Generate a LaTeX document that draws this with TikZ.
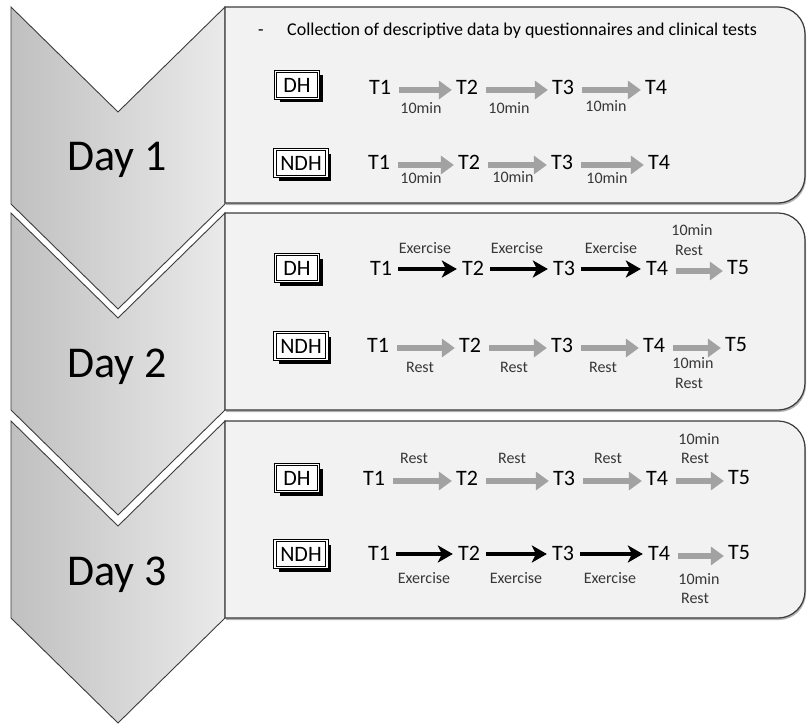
\documentclass[tikz,border=0pt]{standalone}
\usepackage{fontspec}
\setmainfont{Carlito}
\usetikzlibrary{arrows.meta,shadows}
\definecolor{chevL}{RGB}{192,192,192}
\definecolor{chevR}{RGB}{234,234,234}
\definecolor{boxfill}{RGB}{242,242,242}
\definecolor{edge}{RGB}{60,60,60}
\definecolor{arrowgray}{RGB}{162,162,162}
\definecolor{labgray}{RGB}{55,55,55}
\newcommand\chevpath[1]{(11,#1) -- (118,{#1+105}) -- (225,#1) -- (225,{#1+197}) -- (118,{#1+302}) -- (11,{#1+197}) -- cycle}
\newcommand\boxpath[2]{(225,#1) -- (778,#1) .. controls (792.9,#1) and (805,{#1+12.1}) .. (805,{#1+27}) -- (805,{#2-27}) .. controls (805,{#2-12.1}) and (792.9,#2) .. (778,#2) -- (225,#2) -- cycle}
\begin{document}
\begin{tikzpicture}[x=1pt,y=-1pt,
  chev/.style={draw=edge, line width=0.9pt, left color=chevL, right color=chevR, line join=miter},
  bigbox/.style={draw=edge, line width=1.2pt, fill=boxfill},
  tlab/.style={font=\fontsize{22}{24}\selectfont, inner sep=0pt},
  slab/.style={font=\fontsize{16}{18}\selectfont, text=labgray, inner sep=0pt},
  daylab/.style={font=\fontsize{44}{48}\selectfont, inner sep=0pt, anchor=base},
  hlab/.style={font=\fontsize{18}{20}\selectfont, inner sep=0pt, anchor=base west},
  hbox/.style={draw=black, double=white, double distance=1.4pt, line width=0.9pt, fill=white,
    font=\fontsize{22}{24}\selectfont, minimum height=27pt, inner sep=2pt,
    drop shadow={shadow xshift=4pt, shadow yshift=-4pt, fill=black, opacity=1}},
  garrow/.style={draw=arrowgray, line width=6pt, -{Triangle[length=13pt,width=18pt]}, shorten <=8pt, shorten >=4pt},
  barrow/.style={draw=black, line width=3.8pt, -{Stealth[length=15pt,width=17pt,inset=4pt]}, shorten <=6pt, shorten >=5pt}
]
\useasboundingbox (0,0) rectangle (807,725);
\fill[white] (0,0) rectangle (807,725);

% chevrons
\path[chev] \chevpath{7};
\draw[white, line width=8pt, line join=miter] (11,213) -- (118,318) -- (225,213);
\path[chev] \chevpath{213};
\draw[white, line width=8pt, line join=miter] (11,421) -- (118,526) -- (225,421);
\path[chev] \chevpath{421};

% boxes
\fill[black!30, xshift=1pt, yshift=-2pt] \boxpath{7}{203};
\path[bigbox] \boxpath{7}{203};
\fill[black!30, xshift=1pt, yshift=-2pt] \boxpath{213}{410};
\path[bigbox] \boxpath{213}{410};
\fill[black!30, xshift=1pt, yshift=-2pt] \boxpath{421}{618};
\path[bigbox] \boxpath{421}{618};

% day labels
\node[daylab] (day1) at (117,171) {Day 1};
\node[daylab] (day2) at (117,377) {Day 2};
\node[daylab] (day3) at (117,585) {Day 3};

% header
\node[hlab] (hdash) at (258,36) {-};
\node[hlab] (htext) at (287,36) {Collection of descriptive data by questionnaires and clinical tests};

% ---------- Day 1 ----------
\node[hbox, minimum width=43pt] (b1h) at (297,85) {DH};
\node[hbox, minimum width=52pt] (b1n) at (301,163) {NDH};
\foreach \n/\x in {1/380,2/467,3/563,4/656} \node[tlab] (d1h\n) at (\x,87) {T\n};
\foreach \n/\x in {1/379,2/469,3/562,4/659} \node[tlab] (d1n\n) at (\x,162) {T\n};
\foreach \i/\j in {1/2,2/3,3/4} {
  \draw[garrow] ([yshift=-3pt]d1h\i.east) -- ([yshift=-3pt]d1h\j.west);
  \draw[garrow] ([yshift=-3pt]d1n\i.east) -- ([yshift=-3pt]d1n\j.west);
}
\node[slab] (d1hl1) at (421,108) {10min};
\node[slab] (d1hl2) at (509,108) {10min};
\node[slab] (d1hl3) at (606,106) {10min};
\node[slab] (d1nl1) at (421,178) {10min};
\node[slab] (d1nl2) at (513,177) {10min};
\node[slab] (d1nl3) at (607,178) {10min};

% ---------- Day 2 ----------
\node[hbox, minimum width=43pt] (b2h) at (297,268) {DH};
\node[hbox, minimum width=52pt] (b2n) at (301,346) {NDH};
\foreach \n/\x in {1/381,2/473,3/564,4/657,5/738} \node[tlab] (d2h\n) at (\x,268) {T\n};
\foreach \n/\x in {1/378,2/470,3/562,4/654,5/736} \node[tlab] (d2n\n) at (\x,345) {T\n};
\foreach \i/\j in {1/2,2/3,3/4} {
  \draw[barrow] ([yshift=-1pt]d2h\i.east) -- ([yshift=-1pt]d2h\j.west);
  \draw[garrow] ([yshift=-3pt]d2n\i.east) -- ([yshift=-3pt]d2n\j.west);
}
\draw[garrow] ([yshift=-3pt]d2h4.east) -- ([yshift=-3pt]d2h5.west);
\draw[garrow] ([yshift=-3pt]d2n4.east) -- ([yshift=-3pt]d2n5.west);
\node[slab] (d2hl1) at (425,248) {Exercise};
\node[slab] (d2hl2) at (517,248) {Exercise};
\node[slab] (d2hl3) at (611,248) {Exercise};
\node[slab] (d2hl4) at (692,230) {10min};
\node[slab] (d2hl5) at (689,250) {Rest};
\node[slab] (d2nl1) at (420,367) {Rest};
\node[slab] (d2nl2) at (514,367) {Rest};
\node[slab] (d2nl3) at (603,367) {Rest};
\node[slab] (d2nl4) at (693,363) {10min};
\node[slab] (d2nl5) at (689,383) {Rest};

% ---------- Day 3 ----------
\node[hbox, minimum width=43pt] (b3h) at (297,478) {DH};
\node[hbox, minimum width=52pt] (b3n) at (301,554) {NDH};
\foreach \n/\x in {1/374,2/467,3/564,4/657,5/739} \node[tlab] (d3h\n) at (\x,478) {T\n};
\foreach \n/\x in {1/379,2/469,3/563,4/659,5/739} \node[tlab] (d3n\n) at (\x,553) {T\n};
\foreach \i/\j in {1/2,2/3,3/4} {
  \draw[garrow] ([yshift=-3pt]d3h\i.east) -- ([yshift=-3pt]d3h\j.west);
  \draw[barrow] ([yshift=-1pt]d3n\i.east) -- ([yshift=-1pt]d3n\j.west);
}
\draw[garrow] ([yshift=-3pt]d3h4.east) -- ([yshift=-3pt]d3h5.west);
\draw[garrow] ([yshift=-3pt]d3n4.east) -- ([yshift=-3pt]d3n5.west);
\node[slab] (d3hl1) at (414,458) {Rest};
\node[slab] (d3hl2) at (512,458) {Rest};
\node[slab] (d3hl3) at (608,458) {Rest};
\node[slab] (d3hl4) at (699,439) {10min};
\node[slab] (d3hl5) at (695,458) {Rest};
\node[slab] (d3nl1) at (424,578) {Exercise};
\node[slab] (d3nl2) at (516,578) {Exercise};
\node[slab] (d3nl3) at (610,578) {Exercise};
\node[slab] (d3nl4) at (699,579) {10min};
\node[slab] (d3nl5) at (695,598) {Rest};
\end{tikzpicture}
\end{document}
